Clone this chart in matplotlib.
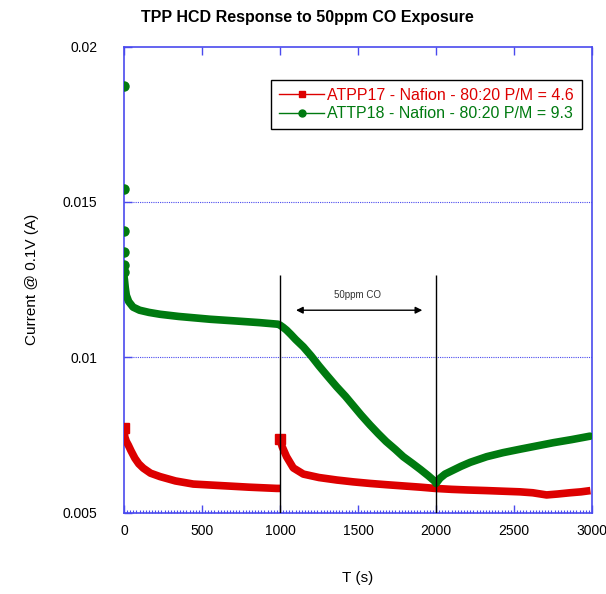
import matplotlib.pyplot as plt
from matplotlib.ticker import MultipleLocator
from matplotlib.lines import Line2D

# readings
# red: before exposure (0-1000 s)
t_red_a = [0, 5, 15, 28, 45, 70, 95, 124, 170, 231, 330, 444, 550, 658, 800, 979, 1000]
i_red_a = [0.00772, 0.00745, 0.00730, 0.00718, 0.00700, 0.00676, 0.00658, 0.00644,
           0.00628, 0.00617, 0.00603, 0.00593, 0.00590, 0.00587, 0.00583, 0.00579, 0.00579]
# red: from 1000 s on
t_red_b = [1000, 1005, 1015, 1042, 1085, 1150, 1250, 1364, 1470, 1577, 1680, 1790, 1900,
           1994, 2100, 2200, 2325, 2430, 2538, 2620, 2709, 2780, 2859, 2930, 2990]
i_red_b = [0.00738, 0.00728, 0.00712, 0.00681, 0.00645, 0.00625, 0.00614, 0.00606, 0.00600,
           0.00595, 0.00591, 0.00587, 0.00583, 0.00579, 0.00576, 0.00574, 0.00572, 0.00570,
           0.00568, 0.00565, 0.00558, 0.00561, 0.00565, 0.00568, 0.00572]

# green: first isolated readings at t = 0
t_green_0 = [0, 0, 0, 0, 0, 0]
i_green_0 = [0.01874, 0.01541, 0.01407, 0.01339, 0.01297, 0.01275]
# green: continuous part
t_green = [0, 3, 8, 15, 30, 58, 100, 160, 231, 350, 551, 700, 872, 987,
           1000, 1020, 1042, 1070, 1100, 1150, 1200, 1250, 1300, 1363, 1420, 1470, 1520,
           1577, 1630, 1680, 1740, 1790, 1850, 1900, 1950, 1994,
           2000, 2026, 2058, 2111, 2160, 2220, 2325, 2430, 2538, 2650, 2752, 2870, 2987]
i_green = [0.01260, 0.01250, 0.01225, 0.01200, 0.01180, 0.01162, 0.01152, 0.01145,
           0.01139, 0.01132, 0.01123, 0.01118, 0.01112, 0.01107,
           0.01104, 0.01097, 0.01088, 0.01074, 0.01058, 0.01034, 0.01005, 0.00973,
           0.00943, 0.00906, 0.00875, 0.00845, 0.00815, 0.00783, 0.00755, 0.00730,
           0.00704, 0.00681, 0.00659, 0.00640, 0.00620, 0.00601,
           0.00595, 0.00612, 0.00625, 0.00638, 0.00650, 0.00663, 0.00681, 0.00694,
           0.00705, 0.00716, 0.00726, 0.00736, 0.00747]

label_red = "ATPP17 - Nafion - 80:20 P/M = 4.6"
label_green = "ATTP18 - Nafion - 80:20 P/M = 9.3"

RED = "#dd0000"
GREEN = "#007a10"
BLUE = "#4a4aee"

plt.rcParams["font.family"] = ["Liberation Sans", "DejaVu Sans"]

fig = plt.figure(figsize=(6.06, 5.94), dpi=100)
ax = fig.add_axes([0.2046, 0.1364, 0.7723, 0.7853])

# dense readings drawn as a thick band
ax.plot(t_red_a, i_red_a, color=RED, lw=5.5, solid_capstyle="butt", zorder=3)
ax.plot(t_red_b, i_red_b, color=RED, lw=5.5, solid_capstyle="butt", zorder=3)
ax.plot(t_red_a[:1] + t_red_b[:1], i_red_a[:1] + i_red_b[:1], ls="none",
        marker="s", ms=6.5, color=RED, zorder=3)
ax.plot(t_green, i_green, color=GREEN, lw=5.5, solid_capstyle="round",
        solid_joinstyle="round", zorder=3)
ax.plot(t_green_0, i_green_0, ls="none", marker="o", ms=6.5, color=GREEN, zorder=3)

# exposure window
ax.vlines([1000, 2000], 0.005, 0.01265, color="black", lw=1, zorder=4)
ax.annotate("", xy=(1085, 0.01152), xytext=(1930, 0.01152),
            arrowprops=dict(arrowstyle="<|-|>", color="black", lw=1,
                            mutation_scale=10))
ax.text(1500, 0.0120, "50ppm CO", ha="center", va="center", fontsize=7, color="#333333")

ax.set_xlim(0, 3000)
ax.set_ylim(0.005, 0.02)
ax.xaxis.set_major_locator(MultipleLocator(500))
ax.xaxis.set_minor_locator(MultipleLocator(20))
ax.set_yticks([0.005, 0.01, 0.015, 0.02])
ax.set_yticklabels(["0.005", "0.01", "0.015", "0.02"])

for sp in ax.spines.values():
    sp.set_color(BLUE)
    sp.set_linewidth(1.2)
ax.tick_params(which="major", direction="in", length=6, color=BLUE, width=1,
               top=True, labelsize=10)
ax.tick_params(axis="x", which="major", pad=8)
ax.tick_params(axis="y", which="major", pad=19)
ax.tick_params(axis="x", which="minor", direction="in", length=2, color=BLUE,
               width=0.8, bottom=True, top=False)
ax.tick_params(axis="y", which="both", right=False)
for y in [0.01, 0.015]:
    ax.axhline(y, color=BLUE, ls=(0, (1, 1)), lw=0.8, zorder=1)

fig.text(0.508, 0.97, "TPP HCD Response to 50ppm CO Exposure", fontsize=11.5,
         fontweight="bold", ha="center", va="center")
ax.set_xlabel("T (s)", fontsize=11, labelpad=24)
ax.set_ylabel("Current @ 0.1V (A)", fontsize=11, labelpad=17)

handles = [Line2D([0], [0], color=RED, lw=1, marker="s", ms=5, label=label_red),
           Line2D([0], [0], color=GREEN, lw=1, marker="o", ms=5, label=label_green)]
leg = ax.legend(handles=handles, loc="upper right", bbox_to_anchor=(0.9786, 0.928),
                fontsize=11.5, fancybox=False, framealpha=1, edgecolor="black",
                handlelength=2.8, handletextpad=0.2, borderpad=0.5, labelspacing=0.2,
                borderaxespad=0)
leg.get_frame().set_linewidth(1)
leg.get_texts()[0].set_color(RED)
leg.get_texts()[1].set_color(GREEN)

fig.savefig("out.png", dpi=100)
